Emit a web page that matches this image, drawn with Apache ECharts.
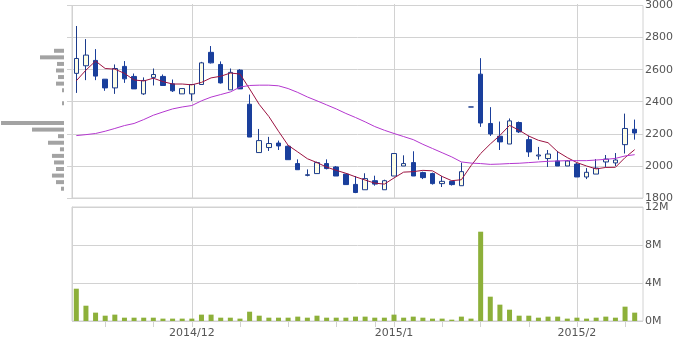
<!DOCTYPE html>
<html><head><meta charset="utf-8">
<script src="https://cdn.jsdelivr.net/npm/echarts@6/dist/echarts.min.js"></script>
<style>html,body{margin:0;padding:0;background:#fff}#c{width:680px;height:340px}</style>
</head><body><div id="c"></div>
<script>
const dates = ["2014/11/12","2014/11/13","2014/11/14","2014/11/17","2014/11/18","2014/11/19","2014/11/20","2014/11/21","2014/11/25","2014/11/26","2014/11/27","2014/11/28",
"2014/12/01","2014/12/02","2014/12/03","2014/12/04","2014/12/05","2014/12/08","2014/12/09","2014/12/10","2014/12/11","2014/12/12","2014/12/15","2014/12/16","2014/12/17","2014/12/18","2014/12/19","2014/12/22","2014/12/24","2014/12/25","2014/12/26","2014/12/29","2014/12/30",
"2015/01/05","2015/01/06","2015/01/07","2015/01/08","2015/01/09","2015/01/13","2015/01/14","2015/01/15","2015/01/16","2015/01/19","2015/01/20","2015/01/21","2015/01/22","2015/01/23","2015/01/26","2015/01/27","2015/01/28","2015/01/29","2015/01/30",
"2015/02/02","2015/02/03","2015/02/04","2015/02/05","2015/02/06","2015/02/09","2015/02/10"];
const opens  = [2571,2618,2651,2535,2481,2614,2552,2444,2546,2552,2506,2444,2444,2502,2701,2626,2469,2591,2380,2081,2112,2140,2120,2013,1940,1951,2013,1992,1948,1884,1851,1907,1851,1936,1998,2019,1957,1951,1889,1903,1876,2363,2566,2261,2182,2134,2267,2161,2060,2044,2029,1998,2010,1930,1948,2023,2017,2130,2225];
const closes = [2663,2684,2554,2481,2601,2537,2475,2527,2564,2496,2463,2477,2502,2636,2636,2512,2577,2475,2177,2155,2137,2122,2037,1975,1944,2019,1982,1936,1883,1834,1920,1886,1907,2075,2013,1936,1926,1889,1903,1883,1963,2363,2264,2196,2147,2277,2209,2085,2066,2072,1998,2029,1930,1959,1985,2041,2035,2230,2202];
const lows   = [2450,2529,2529,2463,2444,2512,2475,2438,2496,2496,2456,2444,2401,2502,2632,2508,2469,2475,2177,2081,2091,2097,2037,1975,1934,1951,1977,1936,1883,1830,1851,1876,1851,1936,1998,1936,1917,1883,1868,1877,1876,2363,2240,2184,2097,2134,2202,2054,2037,1992,1998,1998,1930,1917,1948,1992,1998,2075,2161];
const highs  = [2864,2783,2721,2535,2626,2647,2570,2546,2601,2564,2533,2477,2502,2642,2740,2645,2601,2597,2440,2227,2178,2155,2125,2039,1977,2025,2039,1998,1948,1936,1953,1938,1913,2078,2064,2089,1963,1957,1936,1903,2019,2363,2665,2362,2273,2292,2273,2186,2116,2097,2091,2035,2016,1985,2041,2066,2078,2322,2285];
const ma5  = [2525,2591,2647,2601,2597,2571,2530,2524,2541,2520,2505,2505,2500,2515,2543,2553,2573,2567,2475,2379,2304,2213,2126,2085,2043,2019,1991,1971,1953,1931,1911,1892,1886,1924,1960,1963,1971,1968,1933,1907,1913,2000,2075,2134,2187,2249,2219,2183,2157,2142,2086,2050,2019,1998,1980,1989,1990,2050,2099];
const ma25 = [2186,2192,2199,2213,2230,2248,2261,2285,2312,2332,2351,2363,2372,2401,2424,2440,2456,2486,2496,2498,2498,2494,2477,2453,2425,2401,2376,2351,2323,2298,2271,2242,2219,2199,2180,2161,2132,2106,2080,2054,2023,2016,2013,2008,2010,2013,2015,2019,2023,2027,2029,2031,2031,2031,2035,2039,2045,2060,2068];
const volumes = [3.4,1.61,0.88,0.56,0.67,0.35,0.35,0.35,0.35,0.25,0.25,0.25,0.25,0.67,0.67,0.35,0.35,0.25,0.98,0.56,0.35,0.35,0.35,0.46,0.35,0.56,0.35,0.35,0.35,0.46,0.46,0.35,0.35,0.67,0.35,0.46,0.35,0.25,0.25,0.14,0.46,0.25,9.4,2.56,1.72,1.19,0.56,0.56,0.35,0.46,0.46,0.25,0.35,0.25,0.35,0.46,0.35,1.51,0.88];
const profileLevels = ["1860","1900","1940","1980","2020","2060","2100","2140","2180","2220","2260","2300","2340","2380","2420","2460","2500","2540","2580","2620","2660","2700"];
const profileVolumes = [0.47,1.25,1.88,1.25,1.56,1.88,0.63,2.5,0.94,5.0,9.84,0,0,0.31,0,0.31,1.25,0.94,1.25,1.09,3.75,1.56];
const priceTicks = {min:1800, max:3000, interval:200};
const volumeTicks = {min:0, max:12, interval:4};

const candleData = opens.map((o,i)=>[o, closes[i], lows[i], highs[i]]);
const dayOf = s => new Date(s).getDay();
const monthOf = s => s.split('/')[1];
const isMonthStart = i => i > 0 && monthOf(dates[i]) !== monthOf(dates[i-1]);
const isWeekStart = i => i > 0 && dayOf(dates[i]) <= dayOf(dates[i-1]);
const monthLabel = s => { const p = s.split('/'); return p[0] + '/' + Number(p[1]); };

const font = 'DejaVu Sans';
const gridColor = '#d2d2d2';
const labelColor = '#555';

// geometry
const P = {top:4, height:194};     // price panel
const V = {top:207, height:114};   // volume panel
const frameLeft = 72, frameWidth = 571;
const dataLeft = 71.5, dataWidth = 568;
const band = dataWidth / dates.length;
const lineLeft = dataLeft + band / 2, lineWidth = band * (dates.length - 1);

const hidden = {show:false};
const chart = echarts.init(document.getElementById('c'), null, {renderer:'canvas'});
chart.setOption({
  animation:false,
  textStyle:{fontFamily:font},
  grid:[
    {left:dataLeft, top:P.top, width:dataWidth, height:P.height},              // 0 price data
    {left:dataLeft, top:V.top, width:dataWidth, height:V.height},              // 1 volume data
    {left:0, top:47.5, width:64, height:144.5},                                 // 2 profile
    {left:frameLeft, top:P.top, width:frameWidth, height:P.height, show:true, borderColor:gridColor, borderWidth:1}, // 3 price frame
    {left:frameLeft, top:V.top, width:frameWidth, height:V.height, show:true, borderColor:gridColor, borderWidth:1}, // 4 volume frame
    {left:lineLeft, top:P.top, width:lineWidth, height:P.height},              // 5 price month lines
    {left:lineLeft, top:V.top, width:lineWidth, height:V.height}               // 6 volume month lines + date axis
  ],
  xAxis:[
    {type:'category', gridIndex:0, data:dates, boundaryGap:true, show:false},
    {type:'category', gridIndex:1, data:dates, boundaryGap:true, show:false},
    {type:'value', gridIndex:2, inverse:true, min:0, max:10, show:false},
    {type:'value', gridIndex:3, min:0, max:1, show:false},
    {type:'value', gridIndex:4, min:0, max:1, show:false},
    {type:'category', gridIndex:5, data:dates, boundaryGap:false,
     axisLine:{show:false}, axisTick:{show:false}, axisLabel:{show:false},
     splitLine:{show:true, interval:(i)=>isMonthStart(i), lineStyle:{color:gridColor}}},
    {type:'category', gridIndex:6, data:dates, boundaryGap:false,
     axisLine:{show:false},
     axisTick:{show:true, length:6, interval:(i)=>isWeekStart(i), lineStyle:{color:gridColor}},
     axisLabel:{show:true, interval:(i)=>isMonthStart(i), formatter:(v)=>monthLabel(v), color:labelColor, fontSize:11, fontFamily:font, margin:7},
     splitLine:{show:true, interval:(i)=>isMonthStart(i), lineStyle:{color:gridColor}}}
  ],
  yAxis:[
    {type:'value', gridIndex:0, min:priceTicks.min, max:priceTicks.max, show:false},
    {type:'value', gridIndex:1, min:volumeTicks.min, max:volumeTicks.max, show:false},
    {type:'category', gridIndex:2, data:profileLevels, show:false},
    {type:'value', gridIndex:3, position:'right', min:priceTicks.min, max:priceTicks.max, interval:priceTicks.interval,
     axisLine:{show:true, lineStyle:{color:gridColor}}, axisTick:{show:true, length:7, lineStyle:{color:gridColor}},
     axisLabel:{color:labelColor, fontSize:11, fontFamily:font, margin:2, formatter:(v)=>String(v)},
     splitLine:{show:true, lineStyle:{color:gridColor}}},
    {type:'value', gridIndex:4, position:'right', min:volumeTicks.min, max:volumeTicks.max, interval:volumeTicks.interval,
     axisLine:{show:true, lineStyle:{color:gridColor}}, axisTick:{show:true, length:7, lineStyle:{color:gridColor}},
     axisLabel:{color:labelColor, fontSize:11, fontFamily:font, margin:2, formatter:(v)=>v + 'M'},
     splitLine:{show:true, lineStyle:{color:gridColor}}},
    {type:'value', gridIndex:5, min:0, max:1, show:false},
    {type:'value', gridIndex:6, min:0, max:1, show:false},
    {type:'value', gridIndex:3, position:'left', min:priceTicks.min, max:priceTicks.max, interval:priceTicks.interval,
     axisLine:{show:false}, axisTick:{show:true, length:5, lineStyle:{color:gridColor}},
     axisLabel:{show:false}, splitLine:{show:false}}
  ],
  series:[
    {type:'candlestick', xAxisIndex:0, yAxisIndex:0, data:candleData, barWidth:5, z:3,
     itemStyle:{color:'#fdfde6', color0:'#1a3f9c', borderColor:'#1c3c8c', borderColor0:'#1a3f9c', borderWidth:1}},
    {type:'line', xAxisIndex:0, yAxisIndex:0, data:ma5, symbol:'none', smooth:false,
     lineStyle:{color:'#9b1240', width:1}, z:5},
    {type:'line', xAxisIndex:0, yAxisIndex:0, data:ma25, symbol:'none', smooth:false,
     lineStyle:{color:'#b437cf', width:1}, z:5},
    {type:'bar', xAxisIndex:1, yAxisIndex:1, data:volumes, barWidth:5, itemStyle:{color:'#8db03a'}, z:3},
    {type:'bar', xAxisIndex:2, yAxisIndex:2, data:profileVolumes, barWidth:4, itemStyle:{color:'#a3a3a3'}}
  ]
});
</script></body></html>
